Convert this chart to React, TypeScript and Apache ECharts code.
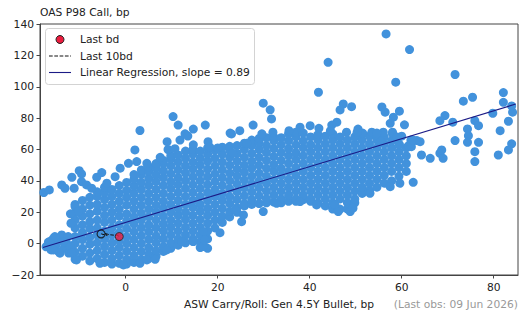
import React, { useEffect, useRef } from "react";
import * as echarts from "echarts";

const FONT = "DejaVu Sans";

// axis ticks
const xTickValues = [0, 20, 40, 60, 80];
const yMin = -20;
const yMax = 140;
const yStep = 20;

// dense body of the cloud, by column: [x, y values]
const denseColumns: [number, number[]][] = [
  [-11.0, [-10, -5.5, 0, 4.5, 10, 15, 19.5, 25]],
  [-9.4, [-8, -3, 2.5, 7, 12, 17.5, 22, 27.5]],
  [-7.8, [-11, -6, -0.5, 4, 9.5, 14, 19, 24.5, 29.5]],
  [-6.2, [-9.5, -4.5, 0.5, 5.5, 10, 15, 20.5, 25, 30, 33]],
  [-4.6, [-12, -7, -2, 3, 8, 13.5, 18, 23, 28, 32.5, 36]],
  [-3.0, [-13, -9.5, -4.5, 0.5, 5.5, 10, 15, 20, 25, 30, 34.5]],
  [-1.4, [-12.5, -7.5, -2.5, 2, 7, 12, 17.5, 22, 27, 32, 37]],
  [0.2, [-13, -10, -5, 0, 4.5, 9.5, 14.5, 19, 24.5, 29.5, 34, 39]],
  [1.8, [-12, -7.5, -2.5, 2.5, 7.5, 12.5, 17, 22, 27, 32, 36.5, 41, 44]],
  [3.4, [-10, -5, 0, 5, 10, 15, 19.5, 24.5, 29.5, 34.5, 39, 44, 47]],
  [5.0, [-9.5, -7, -2.5, 2.5, 7.5, 12, 17, 22, 27, 32, 37, 41.5, 46, 49]],
  [6.6, [-8, -4.5, 0.5, 5, 10, 15, 20, 24.5, 29.5, 34.5, 39.5, 44, 48.5, 51]],
  [8.2, [-5, -2, 3, 8, 12.5, 17.5, 22.5, 27, 32, 37, 42, 46.5, 51, 53]],
  [9.8, [-3, 0.5, 5.5, 10.5, 15, 20, 25, 30, 35, 39.5, 44.5, 49.5, 54, 56]],
  [11.4, [-1, 3, 8, 13, 18, 22.5, 27.5, 32.5, 37.5, 42, 47, 52, 56.5]],
  [13.0, [0.5, 5.5, 10.5, 15.5, 20, 25, 30, 35, 40, 45, 49.5, 54.5, 59]],
  [14.6, [1.5, 3, 8, 13, 18, 23, 27.5, 32.5, 37.5, 42.5, 47.5, 52, 57, 60]],
  [16.2, [-2.5, 1, 5.5, 10.5, 15.5, 20.5, 25, 30, 35, 40, 45, 50, 54.5, 59]],
  [17.8, [-3, 3, 8, 13, 18, 22.5, 27.5, 32.5, 37.5, 42.5, 47.5, 52.5, 57, 61]],
  [19.4, [10, 15, 20, 25, 30, 34.5, 39.5, 44.5, 49.5, 54.5, 59.5]],
  [21.0, [13.5, 17.5, 22.5, 27.5, 32, 37, 42, 47, 52, 57, 61.5]],
  [22.6, [17, 20.5, 25.5, 30, 35, 40, 45, 50, 55, 59.5, 62]],
  [24.2, [20, 23, 28, 33, 38, 43, 47.5, 52.5, 57.5, 62.5]],
  [25.8, [24, 25.5, 30.5, 35.5, 40.5, 45.5, 50, 55, 60, 64]],
  [27.4, [25, 28, 33, 38, 43, 48, 52.5, 57.5, 62.5, 66]],
  [29.0, [25.5, 30.5, 35.5, 40, 45, 50, 55, 60, 64.5, 67]],
  [30.6, [26, 28.5, 33.5, 38.5, 43, 48, 53, 58, 62.5, 67.5]],
  [32.2, [26.5, 31, 36, 41, 46, 50.5, 55.5, 60.5, 65.5, 68]],
  [33.8, [26, 28.5, 33.5, 38.5, 43.5, 48, 53, 58, 63, 67.5]],
  [35.4, [27, 31, 36, 41, 46, 51, 56, 60.5, 65.5, 70]],
  [37.0, [27, 28.5, 33.5, 38.5, 43.5, 48.5, 53.5, 58, 63, 68, 71]],
  [38.6, [28, 31, 36, 41, 46, 51, 56, 61, 65.5, 70.5]],
  [40.2, [27, 28.5, 33.5, 38.5, 43.5, 48.5, 53.5, 58.5, 63, 68]],
  [41.8, [26, 31, 36, 41, 46, 51, 56, 61, 66, 69.5]],
  [43.4, [24, 28.5, 33.5, 38.5, 43.5, 48.5, 53.5, 58.5, 63.5, 68.5]],
  [45.0, [22, 26, 31, 36, 41, 46, 51, 56, 61, 66, 70]],
  [46.6, [22, 28.5, 33.5, 38.5, 43.5, 48.5, 53.5, 58.5, 63.5, 68]],
  [48.2, [22, 26, 31, 36, 41, 46, 51, 56, 61, 66]],
  [49.8, [26, 28.5, 33.5, 38.5, 43.5, 48.5, 53.5, 58.5, 63.5, 68]],
  [51.4, [32, 36, 41, 46, 51, 56, 61, 66, 70]],
  [53.0, [34, 38.5, 43.5, 48.5, 53.5, 58.5, 63.5, 68.5]],
  [54.6, [36, 41, 46, 51, 56, 61, 66, 69]],
  [56.2, [38.5, 43.5, 48.5, 53.5, 58.5, 63.5, 68]],
  [57.8, [40, 46, 51, 56, 61, 65.5]],
  [59.4, [43, 48.5, 53.5, 58.5, 63.5]],
  [61.0, [46, 51, 56, 61]],
];

// lower-left lobe and edges of the cloud
const edgePoints: [number, number][] = [
  [-17.3, -2], [-16.8, 1], [-16.2, -4], [-15.8, 3], [-15.2, -1], [-14.6, -5],
  [-14.4, 2], [-13.9, 5.5], [-13.4, -3], [-12.8, 0], [-12.4, -6], [-12.5, 4.5],
  [-16.5, 1.3], [-15.4, 4.5], [-13.6, 1], [-12, -2], [-11.7, -6.1], [-14.3, -6.1],
  [-15.7, -4], [-10.7, -10.4], [-5.6, -12.5], [-0.5, -13.6], [3.1, -12.5],
  [4.6, -10.4], [6.4, -10], [8.9, -4], [12.2, 1.3], [14.7, 1.3], [16.9, 7.6],
  [16.8, -1.9], [17.2, 2.3], [20.5, 7], [25.2, 14], [23.8, 21.5], [25.6, 18.3],
  [29.9, 20.4], [32.8, 25.7], [37.9, 26.8], [41.5, 24.7], [45.5, 24.7],
  [46.2, 20.4], [48.8, 20.4], [49.4, 22.6], [-11, 23.6], [-10.3, 20.4],
  [-12, 19], [-11.9, 13], [53.1, 32.1], [57.5, 36.3], [59.6, 38.5], [62.5, 39.1],
  [51.5, 70.5], [53.5, 71], [56, 71], [58, 70], [60, 68.5], [62, 66], [59.5, 63],
  [61.5, 62.5], [55.5, 65], [62.1, 61.8], [29.6, 70], [32, 71], [35.5, 72],
  [42, 73.5], [44.5, 72], [48, 71], [50.5, 73],
];

// sparse points outside the body
const outlierPoints: [number, number][] = [
  [-17.8, 32.6], [-16.6, 34.2], [-13.9, 37.4], [-13.2, 35.3], [-11.7, 42.3],
  [-10.1, 46.5], [-9.6, 44.4], [-11.2, 35.3], [-9.6, 39.5], [-8.5, 37.4],
  [-7.4, 35.3], [-6.3, 42.3], [-5.2, 45.3], [-4.1, 38.5], [-2.3, 42.7],
  [-1.2, 48.1], [0.6, 51.2], [2.4, 52.3], [2, 59.7], [4.6, 51.2], [3.1, 72.1],
  [7.5, 55], [9, 65], [9.2, 60], [10.3, 81], [11.4, 75.6], [10.7, 60.5],
  [11.8, 66], [12.9, 70], [13.5, 68.6], [14.7, 73], [14.7, 63], [17.3, 75.6],
  [17.9, 65], [18.3, 61.5], [20, 61], [22.7, 70.5], [23, 69.9], [24.8, 72],
  [23.3, 57.6], [26.3, 64], [27.7, 75.6], [29.9, 89.5], [31.4, 85.3],
  [31.7, 79.5], [44, 115.6], [41.9, 96.5], [47.3, 89], [49.1, 87.3],
  [46.6, 85.2], [45.9, 77.4], [37.9, 74.2], [40.1, 75.2], [44.8, 75.6],
  [50.3, 71], [54.6, 70.5], [58, 71], [59, 68], [63.3, 65.7], [62.5, 66],
  [64, 65], [55.7, 87.1], [56.4, 83.8], [58.2, 80.6], [59.5, 84.4], [57.5, 76.7],
  [60.6, 75.7], [56.6, 133.7], [61.7, 123.7], [71.6, 107.8], [58.7, 102.9],
  [73.4, 90.8], [75.4, 93.3], [82.1, 96.3], [82.1, 90.1], [84.1, 83.8],
  [83.2, 78], [79.8, 83.1], [69.4, 81.6], [68.3, 78.4], [71.1, 77.4],
  [75.9, 78.4], [76.7, 75.2], [74.3, 73.1], [81.4, 72], [74.5, 68.8],
  [71.6, 65.7], [74.3, 64.6], [76.7, 64.6], [83.9, 63.6], [75.9, 58.6],
  [75.9, 52.3], [81, 56.5], [83.2, 59.7], [64.3, 56.5], [66.2, 54.4],
  [68.3, 57.6], [69, 54.4], [68.7, 59.7], [83.9, 87.8],
];

// last observation and last 10 business days
const lastBd: [number, number] = [-1.4, 4.5];
const last10bd: [number, number][] = [
  [-5.35, 6.2], [-4.0, 5.2], [-4.6, 6.6], [-3.6, 5.7], [-2.6, 5.4], [-1.9, 5.6], [-1.4, 4.5],
];

// regression
const regSlope = 0.89;
const regIntercept = 13.5;
const regXRange: [number, number] = [-18, 84.8];

const BLUE = "#4292dc";
const NAVY = "#1b1b86";
const RED = "#ec1c3e";

export default function App() {
  const ref = useRef<HTMLDivElement>(null);

  useEffect(() => {
    document.body.style.margin = "0";
    if (!ref.current) return;
    const chart = echarts.init(ref.current, undefined, { renderer: "svg" });

    const cloud: [number, number][] = [];
    denseColumns.forEach(([x, ys]) => ys.forEach((y) => cloud.push([x, y])));
    edgePoints.forEach((p) => cloud.push(p));
    outlierPoints.forEach((p) => cloud.push(p));

    const regLine = regXRange.map((x) => [x, regIntercept + regSlope * x]);
    const fmtNum = (v: number) => (v < 0 ? "\u2212" + Math.abs(v) : String(v));

    chart.setOption({
      animation: false,
      grid: {
        left: 40,
        top: 24,
        right: 1,
        bottom: 40,
        show: true,
        borderColor: "#444",
        borderWidth: 1,
        backgroundColor: "transparent",
      },
      xAxis: {
        type: "value",
        min: -18.63,
        max: 85.28,
        axisLine: { show: true, onZero: false, lineStyle: { color: "#444", width: 1 } },
        axisTick: { show: true, length: 3.5, customValues: xTickValues, lineStyle: { color: "#444" } },
        axisLabel: {
          customValues: xTickValues,
          color: "#222",
          fontSize: 10.7,
          fontFamily: FONT,
          margin: 7,
          formatter: (v: number) => fmtNum(v),
        },
        splitLine: { show: false },
      },
      yAxis: {
        type: "value",
        min: yMin,
        max: yMax,
        interval: yStep,
        axisLine: { show: true, onZero: false, lineStyle: { color: "#444", width: 1 } },
        axisTick: { show: true, length: 3.5, lineStyle: { color: "#444" } },
        axisLabel: {
          color: "#222",
          fontSize: 10.7,
          fontFamily: FONT,
          margin: 6,
          formatter: (v: number) => fmtNum(v),
        },
        splitLine: { show: false },
      },
      series: [
        {
          type: "scatter",
          data: cloud,
          symbol: "circle",
          symbolSize: 9,
          itemStyle: { color: BLUE, opacity: 1 },
          z: 2,
          silent: true,
        },
        {
          type: "line",
          data: regLine,
          showSymbol: false,
          symbol: "none",
          lineStyle: { color: NAVY, width: 1.1 },
          z: 3,
          silent: true,
        },
        {
          type: "line",
          data: last10bd,
          showSymbol: false,
          symbol: "none",
          lineStyle: { color: "#111", width: 1, type: [3.7, 1.6] },
          z: 4,
          silent: true,
        },
        {
          type: "scatter",
          data: [last10bd[0]],
          symbol: "circle",
          symbolSize: 8,
          itemStyle: { color: "rgba(0,0,0,0)", borderColor: "#111", borderWidth: 1.2 },
          z: 4,
          silent: true,
        },
        {
          type: "scatter",
          data: [lastBd],
          symbol: "circle",
          symbolSize: 8,
          itemStyle: { color: RED, borderColor: "#222", borderWidth: 1 },
          z: 5,
          silent: true,
        },
      ],
      graphic: [
        {
          type: "text",
          left: 40,
          top: 7,
          style: { text: "OAS P98 Call, bp", font: `10.7px "${FONT}"`, fill: "#222" },
        },
        {
          type: "text",
          x: 279,
          y: 304,
          style: {
            text: "ASW Carry/Roll: Gen 4.5Y Bullet, bp",
            font: `10.7px "${FONT}"`,
            fill: "#222",
            align: "center",
            verticalAlign: "middle",
          },
        },
        {
          type: "text",
          x: 518,
          y: 304,
          style: {
            text: "(Last obs: 09 Jun 2026)",
            font: `10.7px "${FONT}"`,
            fill: "#999",
            align: "right",
            verticalAlign: "middle",
          },
        },
        {
          type: "group",
          z: 100,
          children: [
            {
              type: "rect",
              shape: { x: 45.5, y: 28.5, width: 209, height: 56, r: 3 },
              style: { fill: "rgba(255,255,255,0.85)", stroke: "#d3d3d3", lineWidth: 1 },
            },
            {
              type: "circle",
              shape: { cx: 60, cy: 39.5, r: 4 },
              style: { fill: RED, stroke: "#222", lineWidth: 1 },
            },
            {
              type: "text",
              x: 80,
              y: 39.5,
              style: { text: "Last bd", font: `10.7px "${FONT}"`, fill: "#222", verticalAlign: "middle" },
            },
            {
              type: "line",
              shape: { x1: 49, y1: 56, x2: 71, y2: 56 },
              style: { stroke: "#111", lineWidth: 1, lineDash: [3.7, 1.6] },
            },
            {
              type: "text",
              x: 80,
              y: 56,
              style: { text: "Last 10bd", font: `10.7px "${FONT}"`, fill: "#222", verticalAlign: "middle" },
            },
            {
              type: "line",
              shape: { x1: 49, y1: 72.5, x2: 71, y2: 72.5 },
              style: { stroke: NAVY, lineWidth: 1.1 },
            },
            {
              type: "text",
              x: 80,
              y: 72.5,
              style: {
                text: "Linear Regression, slope = 0.89",
                font: `10.7px "${FONT}"`,
                fill: "#222",
                verticalAlign: "middle",
              },
            },
          ],
        },
      ],
    });

    return () => chart.dispose();
  }, []);

  return <div ref={ref} style={{ width: 519, height: 315 }} />;
}
